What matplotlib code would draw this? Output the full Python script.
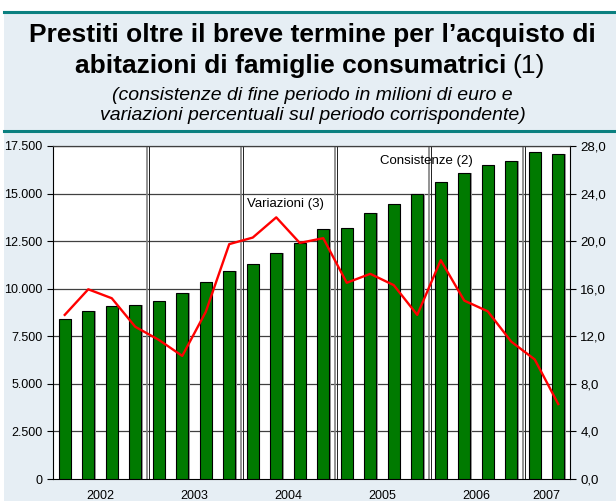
import numpy as np
import matplotlib.pyplot as plt
from matplotlib.patches import Rectangle
from matplotlib.lines import Line2D

plt.rcParams['font.family'] = ['Liberation Sans', 'DejaVu Sans']

# dati trimestrali 2002-T1 ... 2007-T2
anni = ["2002", "2003", "2004", "2005", "2006", "2007"]
trim_per_anno = [4, 4, 4, 4, 4, 2]
consistenze = [8390, 8830, 9075, 9160, 9370, 9775, 10340, 10915,
               11300, 11890, 12400, 13140, 13170, 13990, 14430, 14960,
               15590, 16060, 16500, 16710, 17180, 17090]
variazioni = [13.8, 15.95, 15.2, 12.8, 11.7, 10.35, 14.05, 19.75,
              20.3, 22.0, 19.85, 20.25, 16.5, 17.25, 16.3, 13.8,
              18.4, 15.0, 14.1, 11.55, 10.05, 6.3]

sfondo = "#e6eef4"
teal = "#0b8080"

fig = plt.figure(figsize=(6.16, 5.04), dpi=100, facecolor="white")
fig.patches.append(Rectangle((4 / 616, 3 / 504), 612 / 616, 488 / 504,
                             transform=fig.transFigure, facecolor=sfondo,
                             edgecolor="none", zorder=-10))
for yy in (12, 131):
    fig.add_artist(Line2D([4 / 616, 1], [1 - yy / 504] * 2, color=teal, lw=2.2,
                          transform=fig.transFigure))

fig.text(312 / 616, 1 - 42 / 504, "Prestiti oltre il breve termine per l\u2019acquisto di",
         ha="center", va="baseline", fontsize=19, fontweight="bold")
t2 = fig.text(75 / 616, 1 - 73 / 504, "abitazioni di famiglie consumatrici",
              ha="left", va="baseline", fontsize=19, fontweight="bold")
fig.canvas.draw()
bb = t2.get_window_extent()
fig.text((bb.x1 + 6) / 616, 1 - 73 / 504, "(1)", ha="left", va="baseline", fontsize=19)
fig.text(312 / 616, 1 - 100 / 504, "(consistenze di fine periodo in milioni di euro e",
         ha="center", va="baseline", fontsize=14, style="italic")
fig.text(313 / 616, 1 - 120 / 504, "variazioni percentuali sul periodo corrispondente)",
         ha="center", va="baseline", fontsize=14, style="italic")

ax = fig.add_axes([53 / 616, 25 / 504, 517 / 616, 333 / 504])
ax.set_facecolor("white")
x = np.arange(len(consistenze))
ax.bar(x + 0.06, consistenze, width=0.5, color="#9a9a9a", zorder=2)
ax.bar(x, consistenze, width=0.5, color="#007a00", edgecolor="black", lw=0.8, zorder=3)
ax.set_xlim(-0.5, len(consistenze) - 0.5)
ax.set_ylim(0, 17500)
ax.set_yticks(np.arange(0, 17501, 2500))
ax.set_yticklabels([f"{v:,}".replace(",", ".") for v in range(0, 17501, 2500)])
for v in range(2500, 17501, 2500):
    ax.axhline(v, color="#404040", lw=0.9, zorder=1)

confini = np.cumsum(trim_per_anno)[:-1] - 0.5
for c in confini:
    ax.axvline(c, color="#808080", lw=1.2, zorder=1)
    ax.axvline(c + 0.08, color="#202020", lw=0.7, zorder=1)

centri = np.cumsum(trim_per_anno) - np.array(trim_per_anno) / 2 - 0.5
ax.set_xticks(centri)
ax.set_xticklabels(anni)
ax.tick_params(axis="x", length=0, labelsize=9, pad=8)
ax.tick_params(axis="y", direction="out", length=4, labelsize=9, width=0.8)
for s in ("left", "bottom", "right"):
    ax.spines[s].set_color("black")
ax.spines["top"].set_color("#404040")
ax.spines["top"].set_linewidth(0.9)

ax2 = ax.twinx()
ax2.plot(x, variazioni, color="red", lw=1.7, zorder=5)
ax2.set_ylim(0, 28)
ax2.set_yticks(np.arange(0, 28.1, 4))
ax2.set_yticklabels([f"{v:.1f}".replace(".", ",") for v in np.arange(0, 28.1, 4)])
ax2.tick_params(axis="y", direction="out", length=4, labelsize=9.5, width=0.8)
for s in ax2.spines.values():
    s.set_visible(False)

ax.text(9.37, 14450, "Variazioni (3)", ha="center", va="center", fontsize=9.5, zorder=6)
ax.text(15.37, 16710, "Consistenze (2)", ha="center", va="center", fontsize=9.5, zorder=6)

fig.savefig("out.png", dpi=100, facecolor="white")
